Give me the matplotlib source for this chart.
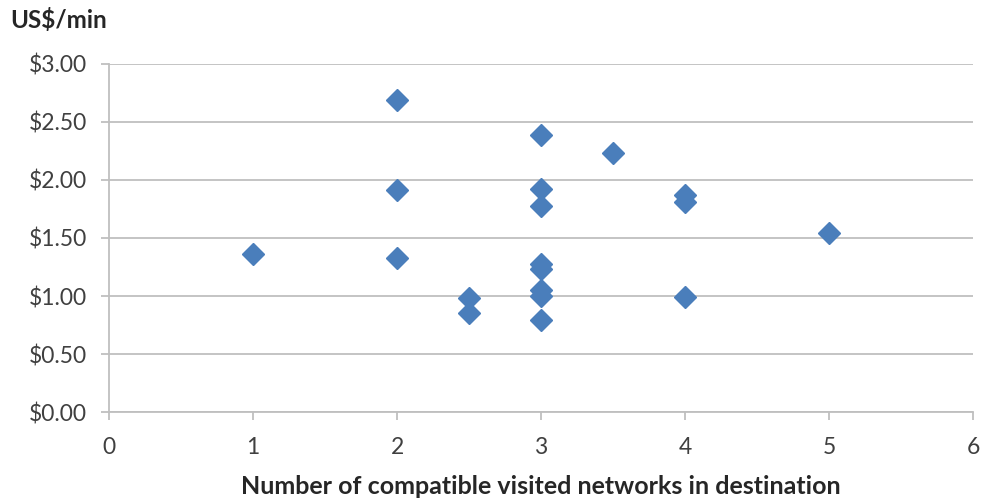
import matplotlib
matplotlib.use("Agg")
import matplotlib.pyplot as plt
from matplotlib.ticker import FuncFormatter

networks = [1, 2, 2, 2, 2.5, 2.5, 3, 3, 3, 3, 3, 3, 3, 3, 3.5, 4, 4, 4, 5]
price = [1.36, 2.69, 1.91, 1.33, 0.98, 0.85, 2.39, 1.92, 1.78, 1.28, 1.23, 1.05, 1.00, 0.79, 2.23, 1.87, 1.81, 0.99, 1.54]
x_ticks = [0, 1, 2, 3, 4, 5, 6]
y_ticks = [0, 0.5, 1.0, 1.5, 2.0, 2.5, 3.0]

plt.rcParams['font.family'] = ['Lato', 'DejaVu Sans']
fig = plt.figure(figsize=(9.81, 5.01), dpi=100)
ax = fig.add_axes([109/981, 1-412/501, (973-109)/981, (412-64)/501])

ax.plot(networks, price, linestyle='none', marker='D', markersize=11,
        color='#4A7EBB', markeredgecolor='#4A7EBB', zorder=3)

ax.set_xlim(0, 6)
ax.set_ylim(0, 3)
ax.set_xticks(x_ticks)
ax.set_yticks(y_ticks)
ax.yaxis.set_major_formatter(FuncFormatter(lambda v, p: f"${v:.2f}"))
ax.grid(axis='y', color='#BFBFBF', linewidth=1.3)
ax.set_axisbelow(True)
for s in ['top', 'right']:
    ax.spines[s].set_visible(False)
for s in ['left', 'bottom']:
    ax.spines[s].set_color('#BFBFBF')
    ax.spines[s].set_linewidth(1.3)
ax.tick_params(axis='both', colors='#BFBFBF', length=6, width=1.3, labelsize=16.5,
               labelcolor='#404040')
ax.tick_params(axis='y', pad=10)
ax.tick_params(axis='x', pad=12)

fig.text(10/981, 1-20/501, 'US$/min', fontsize=17.5, fontweight='bold', color='#262626',
         ha='left', va='center')
fig.text(541/981, 1-486/501, 'Number of compatible visited networks in destination',
         fontsize=18, fontweight='bold', color='#262626', ha='center', va='center')

fig.savefig('out.png', dpi=100)
